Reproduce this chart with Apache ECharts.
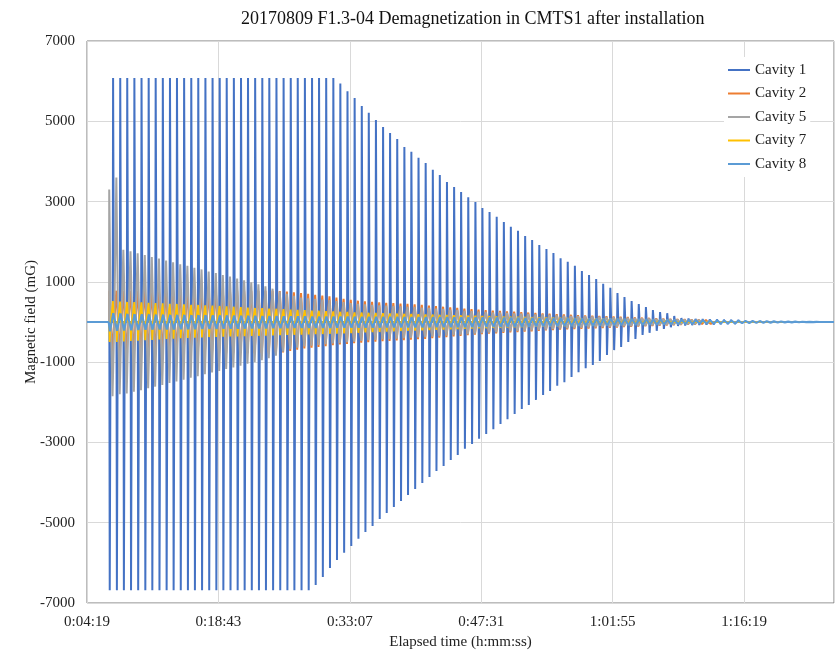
<!DOCTYPE html>
<html>
<head>
<meta charset="utf-8">
<script src="https://cdn.jsdelivr.net/npm/echarts@6/dist/echarts.min.js"></script>
<style>html,body{margin:0;padding:0;background:#fff}#c{width:836px;height:652px}</style>
</head>
<body>
<div id="c"></div>
<script>
// ---- data ----
const titleText = '20170809 F1.3-04 Demagnetization in CMTS1 after installation';
const seriesNames = ['Cavity 1', 'Cavity 2', 'Cavity 5', 'Cavity 7', 'Cavity 8'];
const xTickLabels = ['0:04:19', '0:18:43', '0:33:07', '0:47:31', '1:01:55', '1:16:19'];
const yTickLabels = [-7000, -5000, -3000, -1000, 1000, 3000, 5000, 7000];
const recordStart = 259;   // s (0:04:19)
const recordEnd = 5170;    // s
const positiveDelay = 22;  // s, positive pulse follows the negative one

// time (s) of each negative pulse of Cavity 1
const pulseTimes = [410,457,503,550,597,644,690,737,784,830,
 877,924,970,1017,1064,1111,1157,1204,1251,1297,
 1344,1391,1437,1484,1531,1578,1624,1671,1718,1764,
 1811,1858,1904,1951,1998,2045,2091,2138,2185,2231,
 2278,2325,2371,2418,2465,2512,2558,2605,2652,2698,
 2745,2792,2838,2885,2932,2979,3025,3072,3119,3165,
 3212,3259,3305,3352,3399,3446,3492,3539,3586,3632,
 3679,3726,3772,3819,3866,3913,3959,4006,4053,4099,
 4146,4193,4239,4286,4333,4380,4426,4473,4520,4566,
 4613,4660,4706,4753,4800,4847,4893,4940,4987,5033];

const c1Pos = [6080,6080,6080,6080,6080,6080,6080,6080,6080,6080,
 6080,6080,6080,6080,6080,6080,6080,6080,6080,6080,
 6080,6080,6080,6080,6080,6080,6080,6080,6080,6080,
 6080,6080,5940,5750,5580,5380,5210,5030,4860,4710,
 4560,4360,4240,4090,3960,3790,3660,3490,3360,3240,
 3110,2990,2840,2740,2620,2490,2370,2270,2140,2040,
 1920,1820,1720,1590,1500,1400,1270,1170,1070,950,
 850,720,620,520,450,370,300,250,220,150,
 100,90,80,75,70,65,60,55,50,45,
 40,40,35,30,30,25,20,20,15,10];
const c1Neg = [-6680,-6680,-6680,-6680,-6680,-6680,-6680,-6680,-6680,-6680,
 -6680,-6680,-6680,-6680,-6680,-6680,-6680,-6680,-6680,-6680,
 -6680,-6680,-6680,-6680,-6680,-6680,-6680,-6680,-6680,-6550,
 -6350,-6130,-5930,-5750,-5580,-5400,-5230,-5080,-4910,-4760,
 -4610,-4460,-4310,-4160,-4010,-3860,-3710,-3590,-3440,-3310,
 -3160,-3040,-2910,-2790,-2670,-2540,-2420,-2290,-2170,-2070,
 -1940,-1820,-1720,-1590,-1500,-1370,-1250,-1150,-1070,-970,
 -820,-700,-620,-500,-420,-320,-270,-220,-170,-130,
 -100,-90,-80,-75,-70,-65,-60,-55,-50,-45,
 -40,-40,-35,-30,-30,-25,-20,-20,-15,-10];
const c2Pos = [780,780,780,780,780,780,780,780,780,780,
 780,780,780,780,780,780,780,780,780,780,
 780,780,780,780,770,760,740,720,700,680,
 660,640,610,580,550,530,515,500,490,480,
 470,460,450,440,425,410,395,380,365,350,
 335,320,305,295,285,275,265,255,245,235,
 225,215,205,195,185,178,170,163,156,150,
 143,136,128,120,112,105,98,90,82,75,
 70,65,60,55,50,46,42,38,35,32,
 29,26,23,20,18,15,12,10,8,5];
const c2Neg = [-780,-780,-780,-780,-780,-780,-780,-780,-780,-780,
 -780,-780,-780,-780,-780,-780,-780,-780,-780,-780,
 -780,-780,-780,-780,-760,-720,-690,-660,-640,-620,
 -600,-580,-560,-545,-530,-515,-500,-490,-480,-470,
 -460,-450,-440,-430,-420,-405,-390,-375,-360,-345,
 -330,-315,-300,-290,-280,-270,-260,-250,-240,-230,
 -220,-210,-200,-190,-182,-175,-168,-160,-153,-146,
 -140,-133,-126,-118,-110,-103,-96,-88,-80,-73,
 -68,-63,-58,-53,-49,-45,-41,-37,-34,-31,
 -28,-25,-22,-19,-17,-14,-11,-9,-7,-5];
const c5Pos = [3300,3600,1800,1760,1710,1670,1620,1580,1530,1490,
 1440,1400,1350,1310,1260,1220,1170,1130,1080,1040,
 990,940,890,830,760,700,650,610,590,575,
 560,545,520,495,470,450,440,425,415,410,
 400,390,380,375,360,350,335,325,310,300,
 285,270,260,250,240,235,225,215,210,200,
 190,185,175,165,155,150,145,140,135,130,
 120,115,110,100,95,90,85,75,70,65,
 60,55,50,47,43,40,36,32,30,27,
 25,22,20,17,15,13,10,8,7,4];
const c5Neg = [-1850,-1800,-1780,-1740,-1700,-1650,-1610,-1570,-1520,-1480,
 -1440,-1390,-1350,-1300,-1260,-1220,-1170,-1130,-1090,-1040,
 -1000,-950,-900,-840,-740,-680,-640,-610,-590,-570,
 -550,-535,-520,-505,-490,-470,-455,-445,-435,-425,
 -415,-405,-395,-385,-375,-365,-350,-340,-325,-315,
 -300,-290,-275,-265,-255,-245,-235,-225,-215,-205,
 -195,-185,-175,-165,-155,-150,-145,-135,-130,-125,
 -120,-115,-105,-100,-95,-90,-80,-75,-70,-65,
 -60,-55,-50,-45,-42,-38,-35,-32,-29,-26,
 -24,-21,-19,-16,-14,-12,-9,-8,-6,-4];
const c7Pos = [520,510,500,495,490,480,470,465,455,450,
 440,430,425,415,410,400,390,380,370,360,
 350,345,335,330,320,310,300,295,285,280,
 270,265,255,250,240,235,230,225,220,215,
 210,205,200,195,190,185,180,175,170,165,
 160,155,150,146,142,138,134,130,126,122,
 118,114,110,106,102,98,94,90,86,82,
 78,74,70,66,62,58,55,52,49,46,
 43,40,38,36,34,32,30,28,26,24,
 22,20,18,16,14,12,10,8,6,4];
const c7Neg = [-500,-495,-485,-475,-465,-455,-445,-435,-425,-415,
 -405,-398,-390,-383,-376,-370,-366,-362,-358,-354,
 -350,-345,-340,-335,-330,-325,-320,-315,-310,-305,
 -300,-295,-290,-285,-280,-270,-262,-255,-248,-240,
 -233,-226,-220,-214,-208,-202,-196,-190,-184,-178,
 -172,-166,-160,-155,-150,-145,-140,-135,-130,-125,
 -120,-116,-112,-108,-104,-100,-96,-92,-88,-84,
 -80,-76,-72,-68,-64,-60,-57,-54,-51,-48,
 -45,-42,-40,-38,-36,-34,-32,-30,-28,-26,
 -24,-22,-20,-18,-16,-14,-12,-10,-8,-6];
const c8Pos = [220,210,200,195,190,185,180,178,176,174,
 172,170,168,166,164,162,160,158,156,154,
 152,150,148,146,144,142,140,139,138,137,
 136,135,134,133,132,131,130,129,128,127,
 126,125,124,123,122,121,120,119,118,117,
 116,115,114,113,112,110,108,106,104,102,
 100,98,96,94,92,90,88,86,84,82,
 80,78,76,74,72,70,67,64,61,58,
 55,52,49,46,43,40,37,34,31,28,
 25,22,19,16,13,10,8,6,4,2];
const c8Neg = [-230,-220,-210,-205,-200,-195,-190,-188,-186,-184,
 -182,-180,-178,-176,-174,-172,-170,-168,-166,-164,
 -162,-160,-158,-156,-154,-152,-150,-149,-148,-147,
 -146,-145,-144,-143,-142,-141,-140,-139,-138,-137,
 -136,-135,-134,-133,-132,-131,-130,-129,-128,-127,
 -126,-125,-124,-123,-122,-120,-118,-116,-114,-112,
 -110,-108,-106,-104,-102,-100,-97,-94,-91,-88,
 -85,-82,-79,-76,-73,-70,-67,-64,-61,-58,
 -55,-52,-49,-46,-43,-40,-37,-34,-31,-28,
 -25,-22,-19,-16,-13,-10,-8,-6,-4,-2];

// ---- build line data (pulse shapes) ----
function pulse(out, t, v, half, flat) {
  out.push([t - half, 0], [t - flat, v], [t + flat, v], [t + half, 0]);
}
function inPhase(neg, pos, half, flat) {
  const d = [[recordStart, 0]];
  pulseTimes.forEach((t, k) => {
    pulse(d, t, neg[k], half, flat);
    pulse(d, t + positiveDelay, pos[k], half, flat);
  });
  d.push([recordEnd, 0]);
  return d;
}
function antiPhase(pos, neg, half, flat) {
  const d = [[recordStart, 0]];
  pulseTimes.forEach((t, k) => {
    pulse(d, t, pos[k], half, flat);
    pulse(d, t + positiveDelay, neg[k], half, flat);
  });
  d.push([recordEnd, 0]);
  return d;
}
function zig(neg, pos) {
  const d = [[recordStart, 0], [pulseTimes[0] - 8, 0]];
  pulseTimes.forEach((t, k) => {
    d.push([t, neg[k]], [t + positiveDelay, pos[k]]);
  });
  d.push([pulseTimes[pulseTimes.length - 1] + positiveDelay + 20, 0], [recordEnd, 0]);
  return d;
}

const colors = ['#4472C4', '#ED7D31', '#A5A5A5', '#FFC000', '#5B9BD5'];
const widths = [2, 2, 2, 1.75, 2.2];
const datas = [
  inPhase(c1Neg, c1Pos, 4, 1.5),
  antiPhase(c2Pos, c2Neg, 6, 5),
  antiPhase(c5Pos, c5Neg, 6, 5),
  inPhase(c7Neg, c7Pos, 5, 2.5),
  zig(c8Neg, c8Pos)
];

function fmt(v) {
  v = Math.round(v);
  const h = Math.floor(v / 3600), m = Math.floor((v % 3600) / 60), s = v % 60;
  return h + ':' + String(m).padStart(2, '0') + ':' + String(s).padStart(2, '0');
}

const font = 'Liberation Serif';
const chart = echarts.init(document.getElementById('c'), null, {renderer: 'canvas'});
chart.setOption({
  animation: false,
  backgroundColor: '#fff',
  title: {
    text: titleText, left: 236, top: 5,
    textStyle: {fontFamily: font, fontSize: 18, fontWeight: 'normal', color: '#111'}
  },
  legend: {
    data: seriesNames, orient: 'vertical', left: 724, top: 57,
    icon: 'rect', itemWidth: 22, itemHeight: 2, itemGap: 7.5,
    backgroundColor: '#fff', padding: [5, 4, 5, 4],
    textStyle: {fontFamily: font, fontSize: 15, color: '#222', lineHeight: 16}
  },
  grid: {left: 87, right: 2, top: 41, bottom: 49, show: true, borderColor: '#7a7a7a', borderWidth: 1,
    containLabel: false, outerBoundsMode: 'none'},
  xAxis: {
    type: 'value', min: recordStart, max: recordEnd, interval: 864,
    name: 'Elapsed time (h:mm:ss)', nameLocation: 'middle', nameGap: 32, nameMoveOverlap: false,
    nameTextStyle: {fontFamily: font, fontSize: 15, color: '#222'},
    axisLine: {show: false, onZero: false}, axisTick: {show: false},
    axisLabel: {fontFamily: font, fontSize: 15, color: '#222', margin: 12, showMaxLabel: false,
      formatter: v => fmt(v)},
    splitLine: {show: true, lineStyle: {color: '#d9d9d9', width: 1}}
  },
  yAxis: {
    type: 'value', min: -7000, max: 7000, interval: 2000,
    name: 'Magnetic field (mG)', nameLocation: 'middle', nameGap: 48, nameRotate: 90, nameMoveOverlap: false,
    nameTextStyle: {fontFamily: font, fontSize: 15, color: '#222'},
    axisLine: {show: false}, axisTick: {show: false},
    axisLabel: {fontFamily: font, fontSize: 15, color: '#222', margin: 12, formatter: v => String(v)},
    splitLine: {show: true, lineStyle: {color: '#d9d9d9', width: 1}}
  },
  series: seriesNames.map((n, i) => ({
    name: n, type: 'line', data: datas[i], showSymbol: false, symbol: 'none',
    color: colors[i], lineStyle: {width: widths[i], color: colors[i]},
    sampling: null, silent: true
  }))
});
</script>
</body>
</html>
